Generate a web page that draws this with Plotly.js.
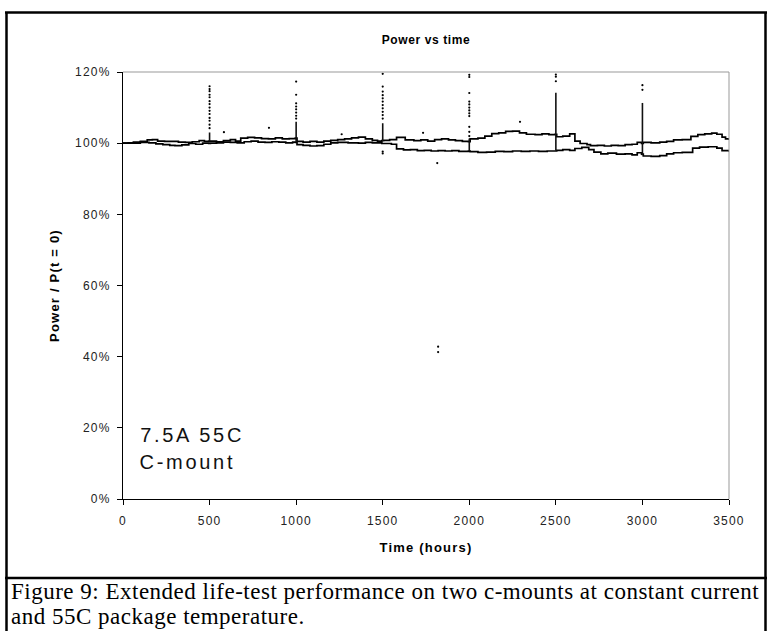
<!DOCTYPE html>
<html><head><meta charset="utf-8">
<script src="https://cdn.plot.ly/plotly-3.0.1.min.js"></script>
<style>
html,body{margin:0;padding:0;background:#fff;}
#chart{width:767px;height:631px;}
.xtick text,.ytick text{letter-spacing:1.2px;}
.xtitle,.ytitle{letter-spacing:1.2px;}
.gtitle{letter-spacing:0.6px;}
g.annotation[data-index="0"] text, g.annotation[data-index="1"] text{letter-spacing:2.7px;}
g.annotation[data-index="2"] text, g.annotation[data-index="3"] text{letter-spacing:0.5px;}
</style></head>
<body><div id="chart"></div>
<script>
// Series 1 (upper line at the end of the test)
const time1 = [0,30,60,100,140,170,200,240,280,320,360,400,440,470,495,
  505,540,580,620,650,680,720,760,800,840,880,920,960,995,
  1005,1040,1080,1120,1160,1200,1240,1280,1320,1360,1400,1440,1470,1495,
  1505,1540,1580,1630,1680,1720,1760,1800,1840,1880,1920,1960,1995,
  2005,2050,2090,2130,2170,2210,2250,2290,2330,2380,2420,2460,2495,
  2505,2540,2580,2610,2640,2680,2700,2740,2780,2820,2860,2900,2940,2970,2995,
  3005,3050,3100,3140,3180,3230,3280,3320,3360,3400,3430,3460,3480,3500];
const power1 = [100.0,100.1,100.3,100.5,100.9,101.0,100.6,100.5,100.5,100.3,100.2,100.4,100.7,100.5,100.6,
  100.6,100.4,100.7,101.0,100.6,101.4,101.6,101.5,101.3,101.2,101.5,101.2,101.3,101.4,
  100.5,100.3,100.5,100.3,100.6,100.8,101.0,101.2,101.5,101.7,101.2,100.8,100.6,100.7,
  100.8,101.0,101.6,100.9,100.7,100.9,100.6,101.0,101.2,100.9,100.7,100.5,100.4,
  101.2,101.4,102.0,102.7,102.9,103.3,103.4,102.9,102.5,102.4,102.6,102.4,102.5,
  101.8,102.0,102.6,100.6,99.9,99.6,99.3,99.4,99.2,99.4,99.3,99.6,99.7,100.2,99.9,
  100.2,100.1,100.3,100.5,100.9,101.0,101.9,102.4,102.6,102.8,102.5,101.7,101.2,100.9];

// Series 2 (lower line at the end of the test)
const time2 = [0,40,100,150,190,230,270,300,340,380,420,460,495,
  505,540,580,620,660,700,740,780,820,860,900,940,980,995,
  1005,1040,1080,1120,1160,1200,1240,1300,1360,1400,1440,1495,
  1505,1550,1580,1620,1660,1700,1740,1780,1820,1860,1900,1940,1995,
  2005,2050,2100,2150,2200,2250,2300,2350,2400,2450,2495,
  2505,2540,2580,2610,2650,2690,2720,2760,2800,2850,2900,2940,2970,2995,
  3005,3050,3100,3140,3180,3230,3290,3330,3380,3430,3460,3500];
const power2 = [100.0,100.0,100.2,100.1,99.8,99.6,99.4,99.3,99.5,99.9,99.7,100.0,99.9,
  100.0,100.1,100.3,100.2,100.1,100.4,100.6,100.3,100.2,100.4,100.3,100.1,100.3,100.2,
  99.6,99.4,99.2,99.3,99.7,100.1,100.2,100.1,100.0,100.2,100.1,99.9,
  99.9,99.7,98.4,98.1,98.2,97.9,98.0,97.8,97.9,97.8,97.9,97.7,97.8,
  97.6,97.4,97.5,97.7,97.6,97.8,97.7,97.8,97.7,97.8,97.8,
  98.0,98.2,98.0,98.5,98.8,98.2,97.5,97.0,97.2,96.9,97.0,96.7,97.3,96.9,
  96.4,96.3,96.5,97.0,97.3,97.4,98.6,98.9,99.0,98.6,97.9,97.6];

// Restart spikes (solid part)
const spikeTimes = [500,1000,1500,2000,2500,3000];
const spikeBase  = [100.5,100.3,100.6,97.8,97.9,96.6];
const spikeTop   = [103.0,106.0,105.6,101.3,114.2,111.3];

// Isolated measurement dots
const dotTimes = [500,500,500,500,500,500,500,500,500,500,500,500,500,500,
  1000,1000,1000,1000,1000,1000,1000,1000,
  1500,1500,1500,1500,1500,1500,1500,1500,1500,1500,1500,1500,1500,
  2000,2000,2000,2000,2000,2000,2000,2000,2000,2000,2000,2000,
  2500,2500,2500,3000,3000,
  583,843,1263,1733,1815,1820,1820,2293];
const dotPower = [116.0,115.2,114.6,113.6,112.9,111.8,111.0,110.0,109.1,108.2,107.1,106.3,105.2,104.2,
  117.3,113.6,111.2,110.3,109.5,108.6,107.7,106.9,
  119.5,115.9,114.5,113.5,112.6,111.7,110.7,109.8,108.8,107.9,106.9,97.6,97.1,
  119.2,118.6,114.1,111.7,110.9,110.0,109.2,108.4,107.6,104.6,103.2,102.0,
  119.3,118.7,117.4,116.3,115.0,
  103.1,104.3,102.5,102.9,94.4,42.8,41.3,106.0];

const titleText = 'Power vs time';
const xTitle = 'Time (hours)';
const yTitle = 'Power / P(t = 0)';
const noteLines = ['7.5A 55C', 'C-mount'];
const captionLines = ['Figure 9: Extended life-test performance on two c-mounts at constant current',
                      'and 55C package temperature.'];

// build spike segments
const sx = [], sy = [];
spikeTimes.forEach((t, i) => { sx.push(t, t, null); sy.push(spikeBase[i], spikeTop[i], null); });

// pixel helpers for paper coords (plot area x:123..729, y:72..499)
const L = 123, R = 729, T = 72, B = 499;
const px = v => (v - L) / (R - L);
const py = v => (B - v) / (B - T);
// left-anchored text with css letter-spacing: plotly centres the unspaced width, so shift by half the extra
const shiftLeft = (x, str, sp) => px(x + str.length * sp / 2);

const font = 'Liberation Sans, Arial, sans-serif';
const serif = 'Liberation Serif, Times New Roman, serif';

const traces = [
  {x: time1, y: power1, mode: 'lines', line: {color: '#000', width: 1.7, shape: 'hv'}, hoverinfo: 'skip'},
  {x: time2, y: power2, mode: 'lines', line: {color: '#000', width: 1.7, shape: 'hv'}, hoverinfo: 'skip'},
  {x: sx, y: sy, mode: 'lines', line: {color: '#111', width: 1.6}, hoverinfo: 'skip'},
  {x: dotTimes, y: dotPower, mode: 'markers', marker: {color: '#000', size: 2.2}, hoverinfo: 'skip'}
];

const frame = {type: 'line', xref: 'paper', yref: 'paper', line: {color: '#000', width: 2.5}};
const layout = {
  width: 767, height: 631,
  margin: {l: L, r: 767 - R, t: T, b: 631 - B, pad: 0},
  paper_bgcolor: '#fff', plot_bgcolor: '#fff',
  showlegend: false,
  font: {family: font, color: '#000'},
  title: {text: '<b>' + titleText + '</b>', font: {size: 12, family: font, color: '#000'},
          x: 0.5, xref: 'paper', xanchor: 'center', y: 1 - 40 / 631, yref: 'container', yanchor: 'middle'},
  xaxis: {range: [0, 3500], tick0: 0, dtick: 500, ticks: 'outside', ticklen: 5, tickcolor: '#000', tickwidth: 1,
          showline: true, linecolor: '#000', linewidth: 1, showgrid: false, zeroline: false,
          tickfont: {size: 12, color: '#222', family: font}, ticklabelstandoff: 6,
          title: {text: '<b>' + xTitle + '</b>', font: {size: 13, color: '#000', family: font}, standoff: 15}},
  yaxis: {range: [0, 120], tick0: 0, dtick: 20, ticksuffix: '%', ticks: 'outside', ticklen: 5, tickcolor: '#000', tickwidth: 1,
          showline: true, linecolor: '#000', linewidth: 1, showgrid: false, zeroline: false,
          tickfont: {size: 12, color: '#222', family: font}, ticklabelstandoff: 4,
          title: {text: '<b>' + yTitle + '</b>', font: {size: 13, color: '#000', family: font}, standoff: 12}},
  shapes: [
    {type: 'line', xref: 'paper', yref: 'paper', x0: 0, x1: 1, y0: 1, y1: 1, line: {color: '#999', width: 1}},
    {type: 'line', xref: 'paper', yref: 'paper', x0: 1, x1: 1, y0: 0, y1: 1, line: {color: '#999', width: 1}},
    Object.assign({}, frame, {x0: px(6.5), x1: px(6.5), y0: py(12.5), y1: py(640)}),
    Object.assign({}, frame, {x0: px(765.5), x1: px(765.5), y0: py(12.5), y1: py(640)}),
    Object.assign({}, frame, {x0: px(5), x1: px(767), y0: py(12.5), y1: py(12.5)}),
    Object.assign({}, frame, {x0: px(5), x1: px(767), y0: py(578), y1: py(578)})
  ],
  annotations: [
    {text: noteLines[0], xref: 'paper', yref: 'paper', x: shiftLeft(138, noteLines[0], 2.7), y: py(435), xanchor: 'left', yanchor: 'middle',
     showarrow: false, font: {size: 20, color: '#111', family: font}},
    {text: noteLines[1], xref: 'paper', yref: 'paper', x: shiftLeft(138, noteLines[1], 2.7), y: py(462), xanchor: 'left', yanchor: 'middle',
     showarrow: false, font: {size: 20, color: '#111', family: font}},
    {text: captionLines[0], xref: 'paper', yref: 'paper', x: shiftLeft(9, captionLines[0], 0.5), y: py(591), xanchor: 'left', yanchor: 'middle',
     showarrow: false, font: {size: 23, color: '#000', family: serif}},
    {text: captionLines[1], xref: 'paper', yref: 'paper', x: shiftLeft(9, captionLines[1], 0.5), y: py(617), xanchor: 'left', yanchor: 'middle',
     showarrow: false, font: {size: 23, color: '#000', family: serif}}
  ]
};

Plotly.newPlot('chart', traces, layout, {displayModeBar: false, staticPlot: true});
</script></body></html>
